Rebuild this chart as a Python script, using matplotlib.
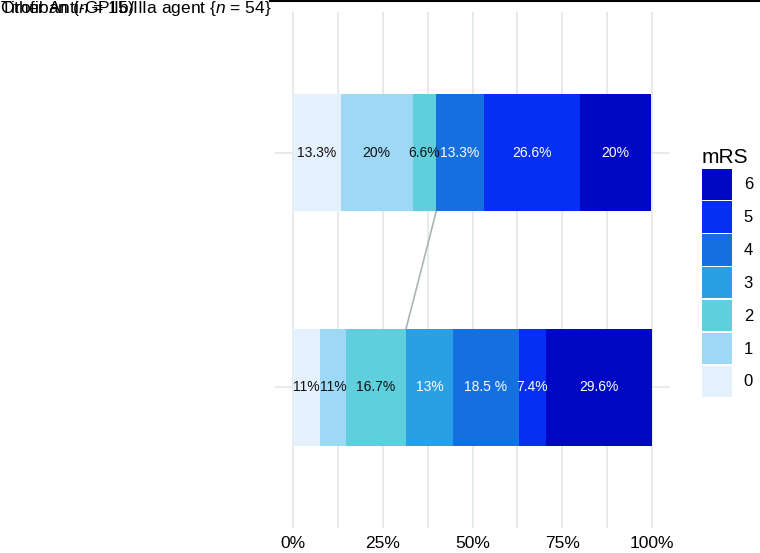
import matplotlib.pyplot as plt
from matplotlib.patches import Patch
from matplotlib.lines import Line2D
import numpy as np

plt.rcParams['font.family'] = ['Liberation Sans', 'DejaVu Sans']
plt.rcParams['mathtext.fontset'] = 'custom'
plt.rcParams['mathtext.it'] = 'Liberation Sans:italic'
plt.rcParams['mathtext.rm'] = 'Liberation Sans'

# mRS categories and colours
mrs_levels = ['0', '1', '2', '3', '4', '5', '6']
mrs_colors = ['#e4f0fc', '#9dd8f5', '#5fcfdd', '#2a9fe3', '#146fdf', '#072ff4', '#0008c3']
text_colors = ['#111111', '#111111', '#111111', 'white', 'white', 'white', 'white']

groups = ['Tirofiban ($n$ = 15)', 'Other Anti-GPIIb/IIIa agent {$n$ = 54}']

# segment widths (%) and printed labels per group
tiro_pct = [13.3, 20, 6.6, 0, 13.3, 26.6, 20]
tiro_lbl = ['13.3%', '20%', '6.6%', '', '13.3%', '26.6%', '20%']
other_pct = [7.4, 7.4, 16.7, 13, 18.5, 7.4, 29.6]
other_lbl = ['11%', '11%', '16.7%', '13%', '18.5 %', '7.4%', '29.6%']

fig = plt.figure(figsize=(7.6, 5.53), dpi=100)
ax = fig.add_axes([275 / 760, 25 / 553, 395 / 760, 516 / 553])

grid_col = '#dfe7e4'
bar_h = 0.5
ypos = [1, 0]

# gridlines
for x in np.arange(0, 101, 12.5):
    ax.axvline(x, color=grid_col, lw=1.2, zorder=0)
for y in ypos:
    ax.axhline(y, color=grid_col, lw=1.2, zorder=0)

for y, pct, lbls in zip(ypos, [tiro_pct, other_pct], [tiro_lbl, other_lbl]):
    left = 0
    for i, (w, lab) in enumerate(zip(pct, lbls)):
        if w > 0:
            ax.barh(y, w, left=left, height=bar_h, color=mrs_colors[i],
                    edgecolor='none', zorder=2)
            ax.text(left + w / 2, y, lab, ha='center', va='center',
                    fontsize=10, color=text_colors[i], zorder=3)
        left += w

# connector for mRS 0-2 boundary
cum_top = sum(tiro_pct[:3])
cum_bot = sum(other_pct[:3])
ax.plot([cum_top, cum_bot], [ypos[0] - bar_h / 2, ypos[1] + bar_h / 2],
        color='#a9b5b2', lw=1.2, zorder=1)

ax.set_xlim(-5, 105)
ax.set_ylim(-0.6, 1.6)
ax.set_xticks([0, 25, 50, 75, 100])
ax.set_xticklabels(['0%', '25%', '50%', '75%', '100%'], fontsize=12.5)
ax.set_yticks([])
ax.tick_params(axis='x', length=0, pad=6)
for s in ax.spines.values():
    s.set_visible(False)

# group labels ended up stacked in the top-left corner
for g in groups:
    fig.text(0.0, 1 - 9 / 553, g, ha='left', va='center', fontsize=12.5)
fig.add_artist(Line2D([270 / 760, 1], [0.999, 0.999], color='black', lw=1.5))

handles = [Patch(facecolor=c, edgecolor='none') for c in mrs_colors][::-1]
leg = fig.legend(handles, mrs_levels[::-1], title='mRS', loc='upper left',
                 bbox_to_anchor=(702 / 760, 1 - 148 / 553), frameon=False,
                 fontsize=12, title_fontsize=15, handlelength=1.8,
                 handleheight=2.5, labelspacing=0.1, handletextpad=0.7,
                 alignment='left', borderpad=0, borderaxespad=0)

fig.savefig('out.png', dpi=100)
